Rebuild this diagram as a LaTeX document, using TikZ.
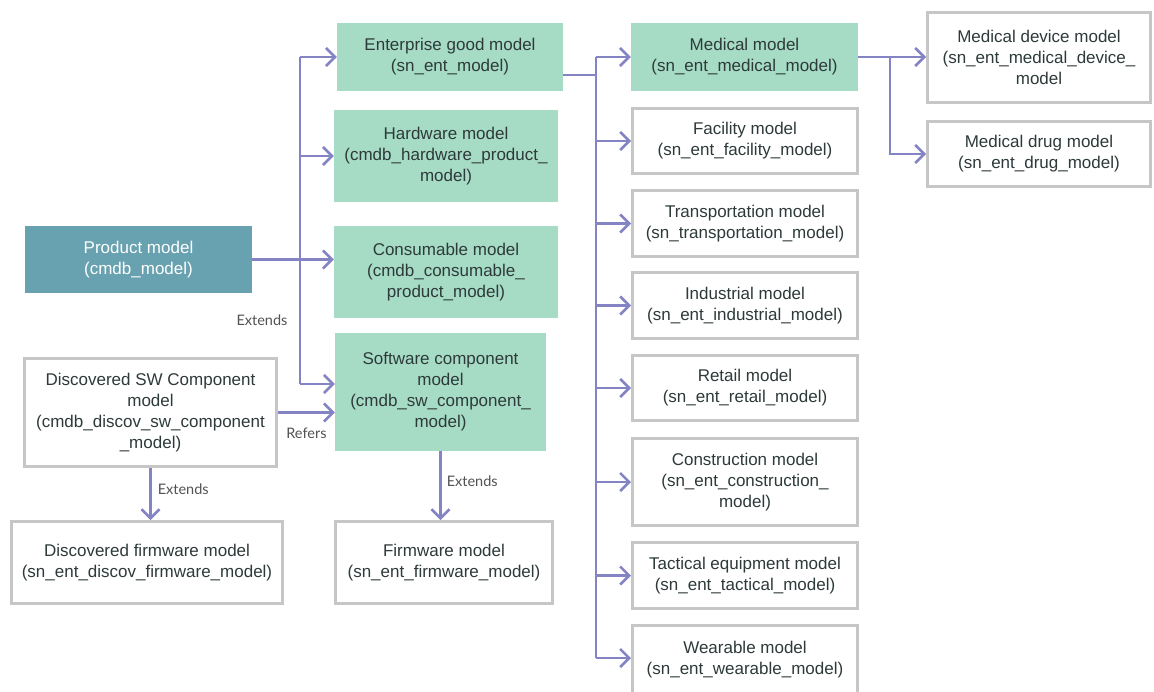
\documentclass[tikz,border=0pt]{standalone}
\usepackage{fontspec}
\setmainfont{Liberation Sans}
\newfontfamily\lblfont{Lato}
\usetikzlibrary{arrows.meta}
\definecolor{mint}{HTML}{A6DCC6}
\definecolor{prodteal}{HTML}{68A1B0}
\definecolor{linkc}{HTML}{8484C4}
\definecolor{boxgray}{HTML}{C6C6C6}
\definecolor{txt}{HTML}{2E3A3A}
\begin{document}
\begin{tikzpicture}[x=1pt,y=-1pt,
    box/.style={align=center,inner sep=0pt,text=txt,font=\fontsize{17}{21}\selectfont},
    gbox/.style={box,fill=mint},
    wbox/.style={box,draw=boxgray,line width=3pt,fill=white},
    line/.style={draw=linkc,line width=2.6pt},
    link/.style={line,-{Straight Barb[length=9pt,width=18pt]}},
    lbl/.style={inner sep=0pt,text=black!68,font=\lblfont\fontsize{14.5}{16}\selectfont}]
    \useasboundingbox (0,0) rectangle (1154,691);
    % left column
    \node[box,fill=prodteal,text=white,minimum width=227,minimum height=67] (prod) at (138.5,259.5)
        {Product model\\(cmdb\_model)};
    \node[wbox,minimum width=252,minimum height=108] (dsw) at (150.5,412.5)
        {Discovered SW Component\\model\\(cmdb\_discov\_sw\_component\\\_model)};
    \node[wbox,minimum width=271,minimum height=82] (dfw) at (147,562.5)
        {Discovered firmware model\\(sn\_ent\_discov\_firmware\_model)};
    % middle column
    \node[gbox,minimum width=226,minimum height=68] (ent) at (450,57)
        {Enterprise good model\\(sn\_ent\_model)};
    \node[gbox,minimum width=224,minimum height=92] (hw) at (446,156)
        {Hardware model\\(cmdb\_hardware\_product\_\\model)};
    \node[gbox,minimum width=224,minimum height=92] (cons) at (446,272)
        {Consumable model\\(cmdb\_consumable\_\\product\_model)};
    \node[gbox,minimum width=211,minimum height=118] (sw) at (440.5,392)
        {Software component\\model\\(cmdb\_sw\_component\_\\model)};
    \node[wbox,minimum width=217,minimum height=82] (fw) at (444,562.5)
        {Firmware model\\(sn\_ent\_firmware\_model)};
    % industry column
    \node[gbox,minimum width=227,minimum height=68] (med) at (744.5,57)
        {Medical model\\(sn\_ent\_medical\_model)};
    \node[wbox,minimum width=225,minimum height=65] (fac) at (745,141)
        {Facility model\\(sn\_ent\_facility\_model)};
    \node[wbox,minimum width=225,minimum height=66] (trans) at (745,223.5)
        {Transportation model\\(sn\_transportation\_model)};
    \node[wbox,minimum width=225,minimum height=66] (ind) at (745,305.5)
        {Industrial model\\(sn\_ent\_industrial\_model)};
    \node[wbox,minimum width=225,minimum height=65] (ret) at (745,388)
        {Retail model\\(sn\_ent\_retail\_model)};
    \node[wbox,minimum width=225,minimum height=87] (constr) at (745,482)
        {Construction model\\(sn\_ent\_construction\_\\model)};
    \node[wbox,minimum width=225,minimum height=66] (tac) at (745,575.5)
        {Tactical equipment model\\(sn\_ent\_tactical\_model)};
    \node[wbox,minimum width=225,minimum height=70] (wear) at (745,660)
        {Wearable model\\(sn\_ent\_wearable\_model)};
    % medical sub-models
    \node[wbox,minimum width=223,minimum height=90] (mdev) at (1039,57.5)
        {Medical device model\\(sn\_ent\_medical\_device\_\\model};
    \node[wbox,minimum width=223,minimum height=65] (drug) at (1039,154)
        {Medical drug model\\(sn\_ent\_drug\_model)};
    % trunks
    \coordinate (ltrunk) at (300,0);
    \coordinate (rtrunk) at (596,0);
    \coordinate (mtrunk) at (890,0);
    % extends from product model
    \draw[line] (ltrunk |- ent.west) -- ([yshift=8pt]ltrunk |- sw.west);
    \foreach \n in {ent,hw}
        \draw[link] (ltrunk |- \n.west) -- (\n.west);
    \draw[link] (prod.east) -- (prod.east -| cons.west);
    \draw[link] ([yshift=8pt]ltrunk |- sw.west) -- ([yshift=8pt]sw.west);
    \node[lbl] (ext1) at (262,320) {Extends};
    % refers
    \draw[link] (dsw.east) -- (dsw.east -| sw.west)
        node[lbl,midway,below=14pt] (ref) {Refers};
    % firmware
    \draw[link] (dsw.south) -- (dsw.south |- dfw.north)
        node[lbl,pos=0.4,right=6pt] (ext2) {Extends};
    \draw[link] (sw.south) -- (sw.south |- fw.north)
        node[lbl,pos=0.44,right=5pt] (ext3) {Extends};
    % industry models
    \draw[line] ([yshift=-18pt]ent.east) -- ([yshift=-18pt]rtrunk |- ent.east);
    \draw[line] (rtrunk |- med.west) -- ([yshift=2pt]rtrunk |- wear.west);
    \foreach \n in {med,fac,trans,ind,ret,constr,tac}
        \draw[link] (rtrunk |- \n.west) -- (\n.west);
    \draw[link] ([yshift=2pt]rtrunk |- wear.west) -- ([yshift=2pt]wear.west);
    % medical models
    \draw[link] (med.east) -- (med.east -| mdev.west);
    \draw[link] (mtrunk |- med.east) |- (drug.west);
\end{tikzpicture}
\end{document}
